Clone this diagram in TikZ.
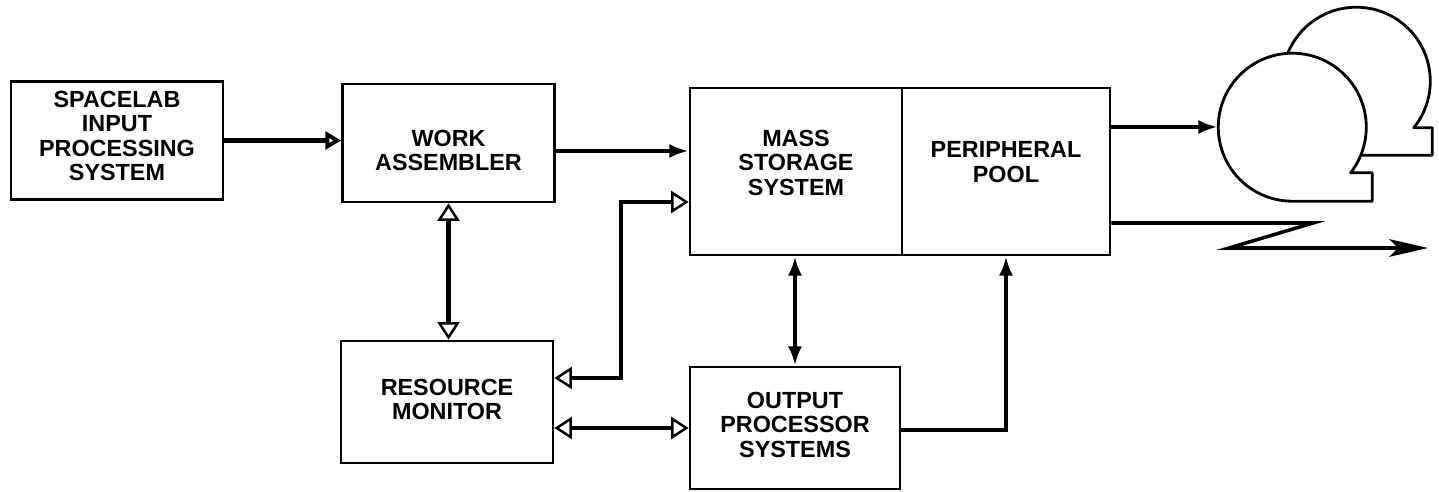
\documentclass[tikz,border=0pt]{standalone}
\usepackage{fontspec}
\setsansfont{Liberation Sans}
\usetikzlibrary{arrows.meta,positioning}
\tikzstyle{every picture}+=[font=\sffamily]

\begin{document}
\begin{tikzpicture}
	[x=0.02cm, y=0.02cm, inner sep=0pt,
	font=\sffamily\bfseries\fontsize{13.3}{13.9}\selectfont,
	block/.style	= {rectangle,draw,line width=1.5pt,align=center,minimum width=4.24cm,minimum height=2.36cm},
	store/.style	= {block,minimum height=3.34cm},
	reel/.style		= {circle,draw=none,inner sep=0pt,minimum size=2.96cm},
	spool/.style	= {line width=1.6pt, fill=white, line join=round},
	feed/.style		= {-{Triangle[open,length=9pt,width=10pt,line width=2.2pt]}, line width=2.6pt},
	twoway/.style	= {{Triangle[open,length=10pt,width=12.5pt,line width=1.4pt]}-{Triangle[open,length=10pt,width=12.5pt,line width=1.4pt]}, line width=2.6pt},
	paths/.style	= {-{Latex[length=11pt,width=8pt]}, line width=2.6pt},
	both/.style		= {{Latex[length=11pt,width=8pt]}-{Latex[length=11pt,width=8pt]}, line width=2.6pt},
	zag/.style		= {-{Stealth[length=22pt,width=10pt,inset=5pt]}, line width=2pt, line join=miter}]

	\useasboundingbox (0,0) rectangle (1439,-492);

	\node at (117, -140.5)	[block, text depth=0.18cm]	(spacelab)	{SPACELAB\\INPUT\\PROCESSING\\SYSTEM};
	\node at (448.5, -143)	[block, text height=1.11cm]	(work)		{WORK\\ASSEMBLER};
	\node at (796, -171.5)	[store, text depth=0.36cm]	(mass)		{MASS\\STORAGE\\SYSTEM};
	\node at (1006, -171.5)	[store, text depth=0.38cm, minimum width=4.16cm]	(periph)	{PERIPHERAL\\POOL};
	\node at (447, -402)	[block, text depth=0.1cm, minimum height=2.44cm]	(resource)	{RESOURCE\\MONITOR};
	\node at (795, -428)	[block, text depth=0.14cm, minimum height=2.44cm, minimum width=4.2cm]	(output)	{OUTPUT\\PROCESSOR\\SYSTEMS};

	% tape reels
	\node at (1356, -81)	[reel]	(back)	{};
	\node at (1292, -127)	[reel]	(front)	{};
	\draw [spool] (back.-39) arc[start angle=-39, end angle=270, radius=74] -- ++(76,0) |- (back.-39) -- cycle;
	\draw [spool] (front.-38) arc[start angle=-38, end angle=270, radius=74] -- ++(80,0) |- (front.-38) -- cycle;

	\coordinate (bend)		at (621, -202);
	\coordinate (zag1)		at (1313, -223);
	\coordinate (zag2)		at (1229, -248);
	\coordinate (zagtip)	at (1428, -248);

	\draw [feed] (spacelab.east) -- (spacelab.east -| work.west);
	\draw [paths] (work.east |- 0,-151) -- (mass.west |- 0,-151);
	\draw [twoway] (work.south) -- (work.south |- resource.north);
	\draw [twoway] (resource.east |- 0,-378) -| (bend) -- (mass.west |- bend);
	\draw [twoway] (resource.east |- 0,-428) -- (output.west |- 0,-428);
	\draw [both] (output.north |- mass.south) -- (output.north);
	\draw [paths] (output.east |- 0,-430) -| (periph.south);
	\draw [paths] (periph.east |- front.west) -- (front.west);
	\draw [zag] (periph.east |- zag1) -- (zag1) -- (zag2) -- (zagtip);
\end{tikzpicture}
\end{document}
